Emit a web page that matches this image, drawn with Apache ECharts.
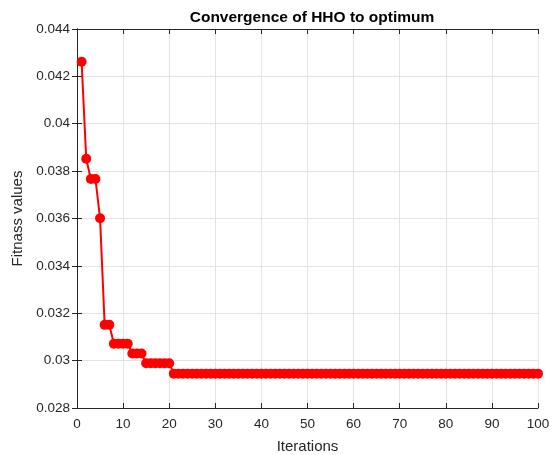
<!DOCTYPE html>
<html lang="en">
  <head>
    <meta charset="UTF-8" />
    <title>Convergence of HHO to optimum</title>
    <script src="https://cdn.jsdelivr.net/npm/echarts@6/dist/echarts.min.js"></script>
    <style>
      html, body { margin: 0; padding: 0; background: #fff; }
      #main { width: 560px; height: 455px; }
    </style>
  </head>
  <body>
    <div id="main"></div>
    <script type="text/javascript">
      // fitness values, iteration 1..100
      var firstFitness = [0.04262, 0.03852, 0.03767, 0.03767, 0.03601, 0.03151, 0.03151,
        0.03071, 0.03071, 0.03071, 0.03071, 0.0303, 0.0303, 0.0303,
        0.02989, 0.02989, 0.02989, 0.02989, 0.02989, 0.02989];
      var plateauValue = 0.02945; // iterations 21..100
      var plateauLength = 80;
      var xTicks = [0, 10, 20, 30, 40, 50, 60, 70, 80, 90, 100];
      var yTicks = [0.028, 0.03, 0.032, 0.034, 0.036, 0.038, 0.04, 0.042, 0.044];

      var fitness = firstFitness.slice();
      for (var i = 0; i < plateauLength; i++) fitness.push(plateauValue);
      var points = fitness.map(function (v, i) { return [i + 1, v]; });

      var textColor = "#262626";
      var font = "'Liberation Sans', Arial, sans-serif";

      var myChart = echarts.init(document.getElementById("main"));
      var option = {
        animation: false,
        backgroundColor: "#fff",
        title: {
          text: "Convergence of HHO to optimum",
          left: 307,
          textAlign: "center",
          top: 5,
          textStyle: { fontSize: 15.5, fontWeight: "bold", color: "#000", fontFamily: font }
        },
        grid: { left: 77, top: 29, right: 22, bottom: 47, outerBoundsMode: "none", containLabel: false },
        xAxis: [
          {
            type: "value",
            min: xTicks[0],
            max: xTicks[xTicks.length - 1],
            interval: 10,
            name: "Iterations",
            nameLocation: "middle",
            nameGap: 31,
            nameTextStyle: { fontSize: 15, color: textColor, fontFamily: font },
            axisLine: { lineStyle: { color: textColor, width: 1 } },
            axisTick: { inside: true, length: 5, lineStyle: { color: textColor } },
            axisLabel: { fontSize: 13.5, color: textColor, fontFamily: font, margin: 9 },
            splitLine: { show: true, lineStyle: { color: "#e3e3e3", width: 1 } }
          },
          {
            type: "value",
            position: "top",
            min: xTicks[0],
            max: xTicks[xTicks.length - 1],
            interval: 10,
            axisLine: { show: true, lineStyle: { color: textColor, width: 1 } },
            axisTick: { show: true, inside: true, length: 5, lineStyle: { color: textColor } },
            axisLabel: { show: false },
            splitLine: { show: false }
          }
        ],
        yAxis: [
          {
            type: "value",
            min: yTicks[0],
            max: yTicks[yTicks.length - 1],
            interval: 0.002,
            name: "Fitnass values",
            nameLocation: "middle",
            nameGap: 50,
            nameTextStyle: { fontSize: 15, color: textColor, fontFamily: font },
            axisLine: { show: true, lineStyle: { color: textColor, width: 1 } },
            axisTick: { show: true, inside: true, length: 5, lineStyle: { color: textColor } },
            axisLabel: {
              fontSize: 13.5,
              color: textColor,
              fontFamily: font,
              margin: 7,
              formatter: function (v) { return String(+v.toFixed(3)); }
            },
            splitLine: { show: true, lineStyle: { color: "#e3e3e3", width: 1 } }
          },
          {
            type: "value",
            position: "right",
            min: yTicks[0],
            max: yTicks[yTicks.length - 1],
            interval: 0.002,
            axisLine: { show: true, lineStyle: { color: textColor, width: 1 } },
            axisTick: { show: true, inside: true, length: 5, lineStyle: { color: textColor } },
            axisLabel: { show: false },
            splitLine: { show: false }
          }
        ],
        series: [
          {
            name: "Fitness",
            type: "line",
            data: points,
            symbol: "circle",
            symbolSize: 10,
            showAllSymbol: true,
            lineStyle: { color: "#ff0000", width: 2 },
            itemStyle: { color: "#ff0000" }
          }
        ]
      };
      myChart.setOption(option);
    </script>
  </body>
</html>
